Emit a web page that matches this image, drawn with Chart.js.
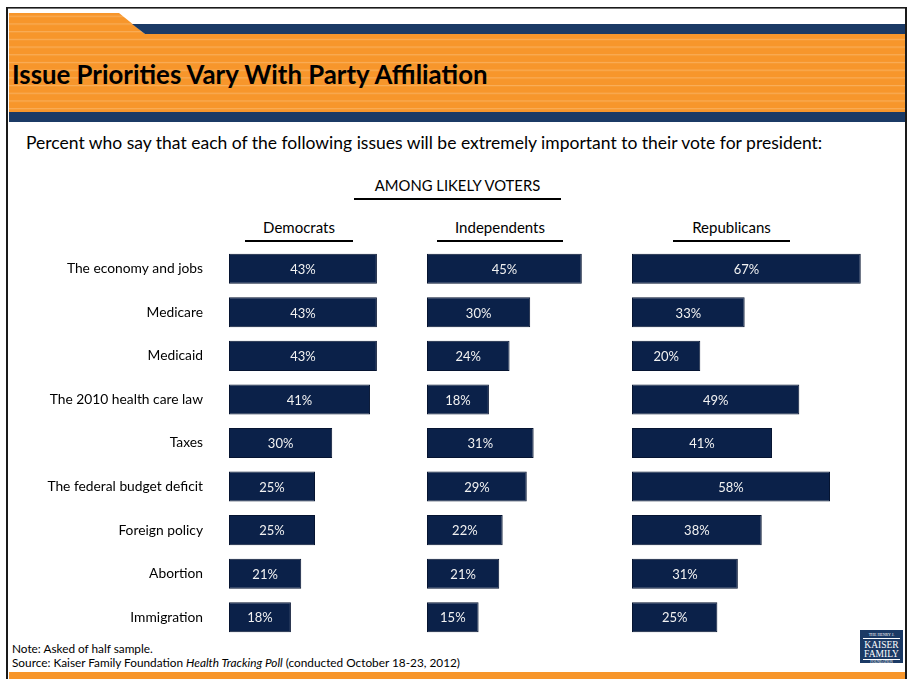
<!DOCTYPE html>
<html>
<head>
<meta charset="utf-8">
<script src="https://cdn.jsdelivr.net/npm/chart.js@4/dist/chart.umd.min.js"></script>
<style>
  html, body { margin: 0; padding: 0; background: #fff; }
  body { width: 909px; height: 679px; position: relative; overflow: hidden; font-family: Lato, "Open Sans", sans-serif; color: #000; }
  .abs { position: absolute; white-space: nowrap; }
  #title { left: 12px; top: 58px; font-size: 25.8px; font-weight: bold; line-height: 32px; }
  #subtitle { left: 26px; top: 131px; font-size: 17.5px; line-height: 24px; }
  #among { left: 354px; width: 207px; top: 175px; font-size: 14.8px; line-height: 20px; text-align: center; }
  .rule { position: absolute; height: 2px; background: #000; }
  .colhead { position: absolute; top: 217px; font-size: 15px; line-height: 20px; text-align: center; }
  .chartbox { position: absolute; top: 247px; height: 392px; }
  #note { left: 12px; top: 642px; font-size: 11.8px; line-height: 13.5px; }
  #logo { position: absolute; left: 860px; top: 630px; width: 43px; height: 33px; background: #1b3a65; color: #fff;
          font-family: "Liberation Serif", "DejaVu Serif", serif; text-align: center; overflow: hidden; }
</style>
</head>
<body>
<svg class="abs" style="left:0;top:0" width="909" height="679">
  <defs>
    <pattern id="stripes" patternUnits="userSpaceOnUse" x="0" y="15.7" width="10" height="7.7">
      <rect x="0" y="0" width="10" height="7.7" fill="#f7962b"/>
      <rect x="0" y="0" width="10" height="1.2" fill="#f9ad58"/>
    </pattern>
  </defs>
  <polygon points="9,13 119,13 145,34 905,34 905,112 9,112" fill="url(#stripes)"/>
  <polygon points="132,24 905,24 905,34 145,34" fill="#1b3a65"/>
  <rect x="9" y="112" width="896" height="10" fill="#1b3a65"/>
  <rect x="9" y="672" width="896" height="7" fill="#f7962b"/>
  <rect x="6" y="7" width="901" height="1.6" fill="#1a1a1a"/>
  <rect x="6" y="7" width="2" height="672" fill="#1a1a1a"/>
  <rect x="905" y="7" width="2" height="672" fill="#1a1a1a"/>
</svg>

<div id="title" class="abs">Issue Priorities Vary With Party Affiliation</div>
<div id="subtitle" class="abs">Percent who say that each of the following issues will be extremely important to their vote for president:</div>
<div id="among" class="abs">AMONG LIKELY VOTERS</div>
<div class="rule" style="left:354px;top:198px;width:207px"></div>

<div class="colhead" style="left:245px;width:108px">Democrats</div>
<div class="rule" style="left:245px;top:240px;width:108px"></div>
<div class="colhead" style="left:437px;width:126px">Independents</div>
<div class="rule" style="left:437px;top:240px;width:126px"></div>
<div class="colhead" style="left:673px;width:117px">Republicans</div>
<div class="rule" style="left:673px;top:240px;width:117px"></div>

<div class="chartbox" style="left:0;width:401px"><canvas id="demChart" width="401" height="392"></canvas></div>
<div class="chartbox" style="left:427px;width:172px"><canvas id="indChart" width="172" height="392"></canvas></div>
<div class="chartbox" style="left:632px;width:239px"><canvas id="repChart" width="239" height="392"></canvas></div>

<div id="note" class="abs">Note: Asked of half sample.<br>Source: Kaiser Family Foundation <i>Health Tracking Poll</i> (conducted October 18-23, 2012)</div>

<div id="logo">
  <div style="font-size:4px;line-height:6px;margin-top:2px;border-bottom:1px solid #fff;margin-left:3px;margin-right:3px">THE HENRY J.</div>
  <div style="font-size:9.5px;line-height:10px;margin-top:1px">KAISER</div>
  <div style="font-size:9.5px;line-height:9px">FAMILY</div>
  <div style="font-size:3.5px;line-height:5px;border-top:1px solid #fff;margin-left:3px;margin-right:3px">FOUNDATION</div>
</div>

<script>
// Issues asked about, top to bottom
const issues = [
  'The economy and jobs',
  'Medicare',
  'Medicaid',
  'The 2010 health care law',
  'Taxes',
  'The federal budget deficit',
  'Foreign policy',
  'Abortion',
  'Immigration'
];
// Percent saying "extremely important", by party
const democrats    = [43, 43, 43, 41, 30, 25, 25, 21, 18];
const independents = [45, 30, 24, 18, 31, 29, 22, 21, 15];
const republicans  = [67, 33, 20, 49, 41, 58, 38, 31, 25];

const BAR_COLOR = '#0b2149';

// Writes each bar's percentage centred inside the bar
const valueLabels = {
  id: 'valueLabels',
  afterDatasetsDraw(chart) {
    const ctx = chart.ctx;
    const meta = chart.getDatasetMeta(0);
    const values = chart.data.datasets[0].data;
    ctx.save();
    ctx.font = '13px Lato, "Open Sans", sans-serif';
    ctx.fillStyle = '#f2f2f2';
    ctx.textAlign = 'center';
    ctx.textBaseline = 'middle';
    meta.data.forEach((bar, i) => {
      ctx.fillText(values[i] + '%', (bar.x + bar.base) / 2, bar.y + 1);
    });
    ctx.restore();
  }
};

function makeChart(id, values, xMax, showLabels) {
  const yScale = {
    display: showLabels,
    grid: { display: false, drawTicks: false },
    border: { display: false },
    ticks: {
      padding: 26,
      color: '#000',
      font: { family: 'Lato, "Open Sans", sans-serif', size: 13.8 }
    }
  };
  if (showLabels) {
    // fixed label column; no extra vertical room for the tick padding
    yScale.afterFit = (scale) => {
      scale.width = 229;
      scale.paddingTop = 0;
      scale.paddingBottom = 0;
    };
  }
  return new Chart(document.getElementById(id), {
    type: 'bar',
    data: {
      labels: issues,
      datasets: [{
        data: values,
        backgroundColor: BAR_COLOR,
        borderColor: '#061431',
        borderWidth: 1,
        borderSkipped: false,
        barPercentage: 0.69,
        categoryPercentage: 1
      }]
    },
    options: {
      indexAxis: 'y',
      responsive: false,
      animation: false,
      layout: { padding: 0 },
      plugins: { legend: { display: false }, tooltip: { enabled: false } },
      scales: {
        x: { display: false, min: 0, max: xMax },
        y: yScale
      }
    },
    plugins: [valueLabels]
  });
}

makeChart('demChart', democrats, 50, true);
makeChart('indChart', independents, 50, false);
makeChart('repChart', republicans, 70, false);
</script>
</body>
</html>
